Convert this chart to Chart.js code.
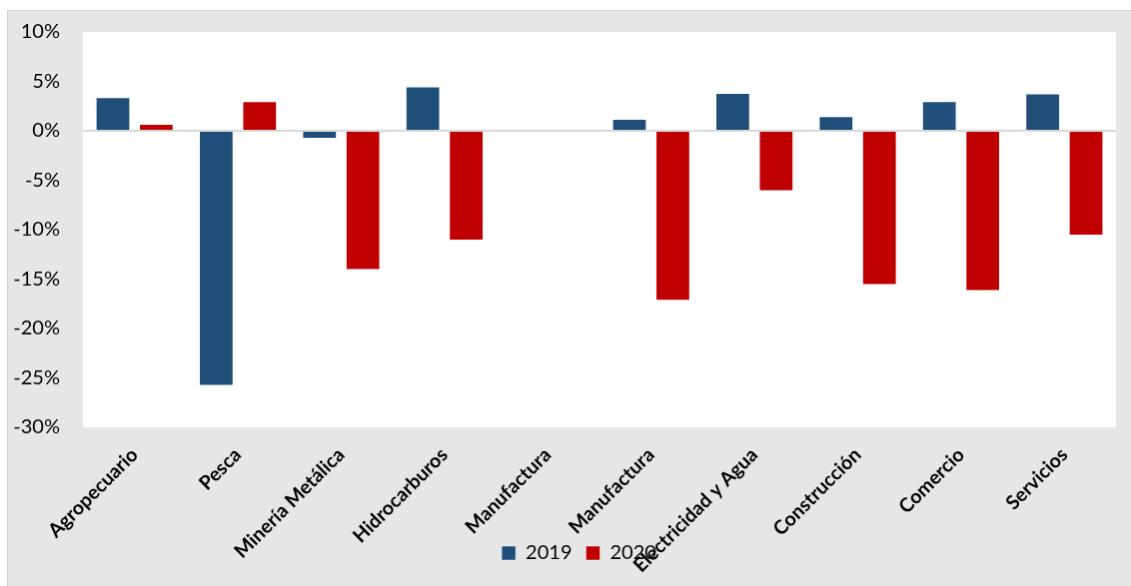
<!DOCTYPE html>
<html>
<head>
<meta charset="utf-8">
<script src="https://cdn.jsdelivr.net/npm/chart.js@4/dist/chart.umd.min.js"></script>
<style>
  body { margin: 0; background: #ffffff; }
  #grafico {
    position: absolute; left: 7px; top: 10px;
    background: #e6e6e6;
    border-left: 1px solid #d2d2d2;
    border-top: 1px solid #d2d2d2;
  }
</style>
</head>
<body>
<canvas id="grafico" width="1124" height="576"></canvas>
<script>
// sectores y variaciones (%)
const sectores = ['Agropecuario', 'Pesca', 'Minería Metálica', 'Hidrocarburos', 'Manufactura',
  'Manufactura', 'Electricidad y Agua', 'Construcción', 'Comercio', 'Servicios'];
const valores2019 = [3.4, -25.8, -0.8, 4.5, null, 1.2, 3.85, 1.5, 3.0, 3.8];
const valores2020 = [0.7, 3.0, -14.1, -11.1, null, -17.2, -6.1, -15.6, -16.2, -10.6];
const etiquetasSerie = ['2019', '2020'];

// fondo blanco solo dentro del area del grafico
const fondoArea = {
  id: 'fondoArea',
  beforeDraw(chart) {
    const { ctx, chartArea } = chart;
    ctx.save();
    ctx.fillStyle = '#ffffff';
    ctx.fillRect(chartArea.left, chartArea.top, chartArea.right - chartArea.left, chartArea.bottom - chartArea.top);
    ctx.restore();
  }
};

// la leyenda va encima de las etiquetas del eje x (como en excel)
const posLeyenda = {
  id: 'posLeyenda',
  afterLayout(chart) {
    const l = chart.legend;
    l.top = 519;
    l.height = 57;
    l.bottom = l.top + l.height;
    l.left += 17;
    l.right += 17;
  }
};

document.addEventListener('DOMContentLoaded', () => {
  const ctx = document.getElementById('grafico').getContext('2d');
  new Chart(ctx, {
    type: 'bar',
    data: {
      labels: sectores,
      datasets: [
        { label: etiquetasSerie[0], data: valores2019, backgroundColor: '#1f4e79',
          borderColor: 'rgba(255,255,255,0.45)', borderWidth: 1 },
        { label: etiquetasSerie[1], data: valores2020, backgroundColor: '#c00000',
          borderColor: 'rgba(255,255,255,0.45)', borderWidth: 1 }
      ]
    },
    options: {
      responsive: false,
      animation: false,
      layout: { padding: { top: 21, right: 15, bottom: 0, left: 0 } },
      datasets: { bar: { categoryPercentage: 0.84, barPercentage: 0.8 } },
      plugins: {
        tooltip: { enabled: false },
        legend: {
          position: 'bottom',
          maxHeight: 2,
          labels: {
            boxWidth: 14, boxHeight: 14, padding: 14, color: '#000000',
            font: { family: 'Lato', size: 20 }
          }
        }
      },
      scales: {
        x: {
          grid: { display: false, drawTicks: false },
          border: { display: false },
          afterFit: (scale) => { scale.height = 157; },
          ticks: {
            autoSkip: false, minRotation: 45, maxRotation: 45, padding: 16,
            color: '#000000', font: { family: 'Lato', size: 19.5, weight: 'bold' }
          }
        },
        y: {
          min: -30, max: 10,
          afterFit: (scale) => { scale.width = 75; scale.paddingTop = 0; },
          grid: {
            drawTicks: false, lineWidth: 2,
            color: (c) => (c.tick && c.tick.value === 0 ? '#d9d9d9' : 'transparent')
          },
          border: { display: false },
          ticks: {
            stepSize: 5, padding: 23, color: '#000000',
            font: { family: 'Lato', size: 20 },
            callback: (v) => v + '%'
          }
        }
      }
    },
    plugins: [fondoArea, posLeyenda]
  });
});
</script>
</body>
</html>
